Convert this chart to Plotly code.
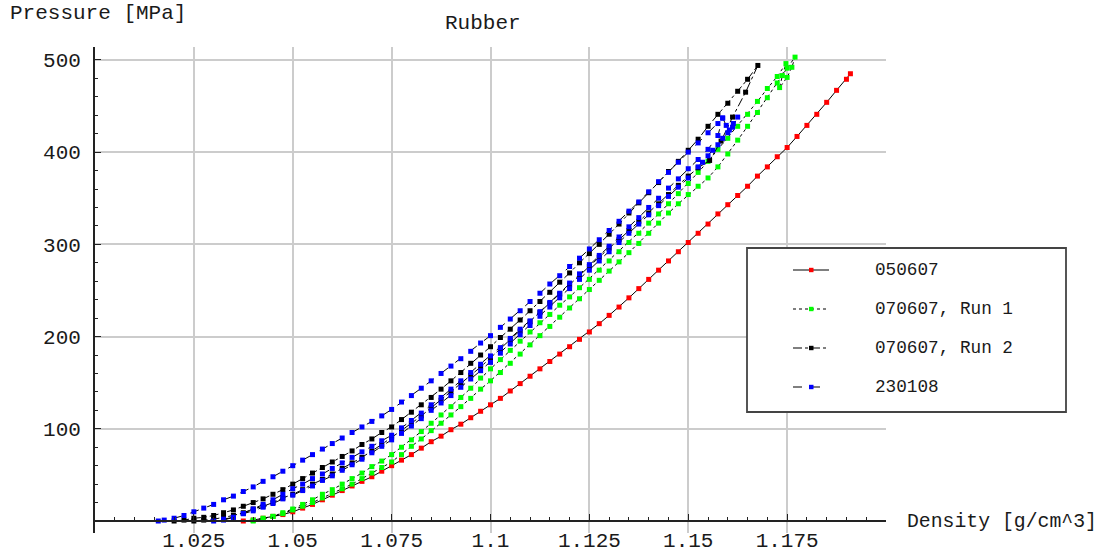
import plotly.graph_objects as go

# ---------------- data (density g/cm^3, pressure MPa) ----------------
# 050607 (red)
RED_X = [1.0375, 1.04, 1.0425, 1.045, 1.0475, 1.05, 1.0525, 1.055, 1.0575, 1.06,
         1.0625, 1.065, 1.0675, 1.07, 1.0725, 1.075, 1.0775, 1.08, 1.0825, 1.085,
         1.0875, 1.09, 1.0925, 1.095, 1.0975, 1.1, 1.1025, 1.105, 1.1075, 1.11,
         1.1125, 1.115, 1.1175, 1.12, 1.1225, 1.125, 1.1275, 1.13, 1.1325, 1.135,
         1.1375, 1.14, 1.1425, 1.145, 1.1475, 1.15, 1.1525, 1.155, 1.1575, 1.16,
         1.1625, 1.165, 1.1675, 1.17, 1.1725, 1.175, 1.1775, 1.18, 1.1825, 1.185,
         1.1875, 1.19, 1.191]
RED_Y = [0, 1, 3, 5, 7, 10, 14, 18, 23, 28,
         33, 38, 43, 48, 54, 60, 66, 72, 79, 86,
         92, 99, 105, 112, 119, 126, 133, 141, 149, 157,
         165, 173, 181, 189, 197, 205, 214, 223, 232, 242,
         252, 262, 272, 282, 292, 302, 312, 322, 333, 343,
         353, 363, 374, 384, 395, 405, 417, 429, 441, 454,
         467, 479, 485]

# 070607, Run 1 (green): loading branch, turn at the top, unloading branch
GU_X = [1.04, 1.0425, 1.045, 1.0475, 1.05, 1.0525, 1.055, 1.0575, 1.06, 1.0625,
        1.065, 1.0675, 1.07, 1.0725, 1.075, 1.0775, 1.08, 1.0825, 1.085, 1.0875,
        1.09, 1.0925, 1.095, 1.0975, 1.1, 1.1025, 1.105, 1.1075, 1.11, 1.1125,
        1.115, 1.1175, 1.12, 1.1225, 1.125, 1.1275, 1.13, 1.1325, 1.135, 1.1375,
        1.14, 1.1425, 1.145, 1.1475, 1.15, 1.1525, 1.155, 1.1575, 1.16, 1.1625,
        1.165, 1.1675, 1.17, 1.1725, 1.1747]
GU_Y = [1, 3, 5, 9, 13, 18, 23, 29, 34, 40,
        46, 52, 59, 65, 72, 80, 88, 97, 106, 115,
        124, 134, 144, 155, 165, 175, 185, 195, 205, 215,
        224, 234, 243, 253, 262, 272, 282, 292, 302, 312,
        323, 333, 344, 355, 366, 378, 390, 403, 415, 428,
        441, 455, 469, 482, 496]
GM_X = [1.1738, 1.1731, 1.175, 1.1762, 1.177]
GM_Y = [483, 470, 481, 492, 503]
GD_X = [1.175, 1.1725, 1.17, 1.1675, 1.165, 1.1625, 1.16, 1.1575, 1.155, 1.1525,
        1.15, 1.1475, 1.145, 1.1425, 1.14, 1.1375, 1.135, 1.1325, 1.13, 1.1275,
        1.125, 1.1225, 1.12, 1.1175, 1.115, 1.1125, 1.11, 1.1075, 1.105, 1.1025,
        1.1, 1.0975, 1.095, 1.0925, 1.09, 1.0875, 1.085, 1.0825, 1.08, 1.0775,
        1.075, 1.0725, 1.07, 1.0675, 1.065, 1.0625, 1.06, 1.0575, 1.055, 1.0525,
        1.05, 1.0475, 1.045, 1.0425, 1.04]
GD_Y = [491, 475, 459, 443, 428, 413, 398, 384, 372, 363,
        354, 344, 334, 323, 312, 301, 291, 281, 271, 261,
        251, 241, 231, 221, 211, 201, 191, 181, 171, 161,
        152, 143, 133, 124, 115, 106, 98, 89, 81, 72,
        64, 58, 52, 46, 40, 35, 30, 25, 20, 16,
        12, 8, 5, 2, 0]

# 070607, Run 2 (black): loading branch and unloading branch
BU_X = [1.02, 1.0225, 1.025, 1.0275, 1.03, 1.0325, 1.035, 1.0375, 1.04, 1.0425,
        1.045, 1.0475, 1.05, 1.0525, 1.055, 1.0575, 1.06, 1.0625, 1.065, 1.0675,
        1.07, 1.0725, 1.075, 1.0775, 1.08, 1.0825, 1.085, 1.0875, 1.09, 1.0925,
        1.095, 1.0975, 1.1, 1.1025, 1.105, 1.1075, 1.11, 1.1125, 1.115, 1.1175,
        1.12, 1.1225, 1.125, 1.1275, 1.13, 1.1325, 1.135, 1.1375, 1.14, 1.1425,
        1.145, 1.1475, 1.15, 1.1525, 1.155, 1.1575, 1.16, 1.1625, 1.165, 1.1676]
BU_Y = [0, 1, 3, 4, 6, 9, 12, 16, 20, 24,
        29, 34, 40, 46, 52, 58, 64, 70, 76, 83,
        89, 96, 102, 110, 118, 126, 134, 143, 152, 161,
        171, 180, 189, 199, 208, 218, 228, 238, 248, 259,
        269, 280, 290, 300, 311, 322, 334, 345, 356, 367,
        379, 390, 402, 414, 428, 441, 453, 466, 479, 494]
BD_X = [1.1645, 1.1612, 1.1583, 1.1554, 1.1525, 1.15,
        1.1475, 1.145, 1.1425, 1.14, 1.1375, 1.135, 1.1325, 1.13, 1.1275, 1.125,
        1.1225, 1.12, 1.1175, 1.115, 1.1125, 1.11, 1.1075, 1.105, 1.1025, 1.1,
        1.0975, 1.095, 1.0925, 1.09, 1.0875, 1.085, 1.0825, 1.08, 1.0775, 1.075,
        1.0725, 1.07, 1.0675, 1.065, 1.0625, 1.06, 1.0575, 1.055, 1.0525, 1.05,
        1.0475, 1.045, 1.0425, 1.04, 1.0375, 1.035, 1.0325, 1.03, 1.0275, 1.025]
BD_Y = [465, 438, 412, 391, 383, 374,
        364, 354, 344, 334, 325, 315, 305, 296, 286, 276,
        266, 256, 246, 236, 226, 216, 206, 196, 186, 176,
        167, 158, 149, 140, 131, 123, 114, 106, 98, 91,
        83, 76, 69, 63, 57, 51, 45, 40, 34, 29,
        25, 20, 16, 13, 9, 6, 4, 2, 1, 0]

# 230108 (blue): loading, double peak, unloading, reloading along the upper curve
B2_X = [1.0325, 1.035, 1.0375, 1.04, 1.0425, 1.045, 1.0475, 1.05, 1.0525, 1.055,
        1.0575, 1.06, 1.0625, 1.065, 1.0675, 1.07, 1.0725, 1.075, 1.0775, 1.08,
        1.0825, 1.085, 1.0875, 1.09, 1.0925, 1.095, 1.0975, 1.1, 1.1025, 1.105,
        1.1075, 1.11, 1.1125, 1.115, 1.1175, 1.12, 1.1225, 1.125, 1.1275, 1.13,
        1.1325, 1.135, 1.1375, 1.14, 1.1425, 1.145, 1.1475, 1.15, 1.1525, 1.155,
        1.1575]
B2_Y = [1, 4, 8, 13, 18, 23, 29, 35, 40, 46,
        51, 57, 63, 69, 75, 81, 87, 93, 101, 109,
        117, 126, 134, 143, 152, 161, 170, 179, 188, 198,
        208, 217, 227, 237, 247, 258, 268, 278, 288, 298,
        308, 319, 329, 340, 350, 361, 371, 382, 392, 403,
        418]
BM_X = [1.1587, 1.1596, 1.1604, 1.1614, 1.1625]
BM_Y = [437, 429, 424, 431, 438]
B3_X = [1.1612, 1.16, 1.1587, 1.1575, 1.1562, 1.155, 1.1536, 1.1525,
        1.15, 1.1475, 1.145, 1.1425, 1.14, 1.1375, 1.135, 1.1325, 1.13, 1.1275,
        1.125, 1.1225, 1.12, 1.1175, 1.115, 1.1125, 1.11, 1.1075, 1.105, 1.1025,
        1.1, 1.0975, 1.095, 1.0925, 1.09, 1.0875, 1.085, 1.0825, 1.08, 1.0775,
        1.075, 1.0725, 1.07, 1.0675, 1.065, 1.0625, 1.06, 1.0575, 1.055, 1.0525,
        1.05, 1.0475, 1.045, 1.0425, 1.04, 1.0375, 1.035, 1.0325, 1.03]
B3_Y = [427, 421, 415, 408, 402, 396, 389, 384,
        372, 362, 352, 342, 332, 322, 312, 302, 292, 282,
        272, 262, 252, 242, 232, 222, 212, 202, 192, 182,
        172, 163, 154, 145, 136, 128, 120, 111, 103, 95,
        88, 81, 74, 67, 61, 55, 49, 44, 38, 33,
        28, 24, 19, 15, 11, 8, 4, 2, 0]
TB_X = [1.016, 1.0175, 1.02, 1.0225, 1.025, 1.0275, 1.03, 1.0325, 1.035, 1.0375,
        1.04, 1.0425, 1.045, 1.0475, 1.05, 1.0525, 1.055, 1.0575, 1.06, 1.0625,
        1.065, 1.0675, 1.07, 1.0725, 1.075, 1.0775, 1.08, 1.0825, 1.085, 1.0875,
        1.09, 1.0925, 1.095, 1.0975, 1.1, 1.1025, 1.105, 1.1075, 1.11, 1.1125,
        1.115, 1.1175, 1.12, 1.1225, 1.125, 1.1275, 1.13, 1.1325, 1.135, 1.1375,
        1.14, 1.1425, 1.145, 1.1475, 1.15, 1.1525, 1.155, 1.1575, 1.1587]
TB_Y = [0, 1, 3, 6, 10, 14, 18, 23, 27, 32,
        37, 43, 48, 54, 60, 66, 72, 78, 84, 90,
        96, 102, 108, 114, 121, 129, 136, 144, 152, 160,
        168, 176, 184, 193, 201, 210, 219, 228, 238, 247,
        257, 266, 276, 285, 295, 305, 315, 325, 336, 346,
        357, 368, 378, 389, 400, 410, 421, 431, 437]

X_TICKS = [1.025, 1.05, 1.075, 1.1, 1.125, 1.15, 1.175]
X_TICK_TEXT = ["1.025", "1.05", "1.075", "1.1", "1.125", "1.15", "1.175"]
Y_TICKS = [100, 200, 300, 400, 500]

for a, b in [(RED_X, RED_Y), (GU_X, GU_Y), (GM_X, GM_Y), (GD_X, GD_Y), (BU_X, BU_Y),
             (BD_X, BD_Y), (B2_X, B2_Y), (BM_X, BM_Y), (B3_X, B3_Y), (TB_X, TB_Y)]:
    assert len(a) == len(b), (len(a), len(b))


def path(*branches):
    xs, ys = [], []
    for bx, by in branches:
        xs += list(bx)
        ys += list(by)
    return xs, ys


SERIES = [
    ("050607", "#ff0000", "solid", path((RED_X, RED_Y))),
    ("070607, Run 1", "#00ff00", "dot", path((GU_X, GU_Y), (GM_X, GM_Y), (GD_X, GD_Y))),
    ("070607, Run 2", "#000000", "dashdot", path((BU_X, BU_Y), (BD_X, BD_Y))),
    ("230108", "#0000ff", "dash", path((B2_X, B2_Y), (BM_X, BM_Y), (B3_X, B3_Y), (TB_X, TB_Y))),
]

# ---------------- layout geometry (pixels) ----------------
W, H = 1103, 559
PL, PR, PT, PB = 95, 886, 47, 533
X_RANGE = [1.0, 1.2]
Y_RANGE = [-13, 514]
FONT = "Liberation Mono, Courier New, monospace"
TXT = "#1a1a1a"


def fx(px):
    return (px - PL) / (PR - PL)


def fy(py):
    return (PB - py) / (PB - PT)


fig = go.Figure()
for name, color, dash, (xs, ys) in SERIES:
    fig.add_trace(go.Scatter(
        x=xs, y=ys, mode="lines+markers", name=name, showlegend=False,
        line=dict(color="#000000", width=1, dash=dash),
        marker=dict(symbol="square", size=5, color=color, line=dict(width=0)),
        cliponaxis=False,
    ))

zero_pos = (0 - Y_RANGE[0]) / (Y_RANGE[1] - Y_RANGE[0])

fig.update_layout(
    width=W, height=H,
    margin=dict(l=PL, r=W - PR, t=PT, b=H - PB, pad=0, autoexpand=False),
    paper_bgcolor="white", plot_bgcolor="white",
    font=dict(family=FONT, size=21, color=TXT),
    showlegend=False,
    xaxis=dict(
        range=X_RANGE, anchor="free", position=zero_pos, automargin=False,
        tickmode="array", tickvals=X_TICKS, ticktext=X_TICK_TEXT,
        ticks="inside", ticklen=6, tickwidth=1.3, tickcolor="#222",
        showline=True, linecolor="#222", linewidth=1.5,
        showgrid=True, gridcolor="#cccccc", gridwidth=1.5,
        zeroline=False, ticklabelstandoff=0,
        minor=dict(tickmode="linear", tick0=1.0, dtick=0.005, ticks="inside",
                   ticklen=3.5, tickwidth=1.2, tickcolor="#222", showgrid=False),
        tickfont=dict(family=FONT, size=21, color=TXT),
    ),
    yaxis=dict(
        range=Y_RANGE, anchor="x", automargin=False,
        tickmode="array", tickvals=Y_TICKS,
        ticks="inside", ticklen=6, tickwidth=1.3, tickcolor="#222",
        showline=True, linecolor="#222", linewidth=1.8,
        showgrid=True, gridcolor="#cccccc", gridwidth=1.5,
        zeroline=False, ticklabelstandoff=8,
        minor=dict(tickmode="linear", tick0=0, dtick=20, ticks="inside",
                   ticklen=3.5, tickwidth=1.2, tickcolor="#222", showgrid=False),
        tickfont=dict(family=FONT, size=21, color=TXT),
    ),
)

ann = [
    dict(text="Pressure [MPa]", x=fx(8), y=fy(14), xanchor="left", size=21),
    dict(text="Rubber", x=fx(483), y=fy(23), xanchor="center", size=21),
    dict(text="Density [g/cm^3]", x=fx(905), y=fy(522), xanchor="left", size=19.8),
]
for a in ann:
    size = a.pop("size")
    fig.add_annotation(xref="paper", yref="paper", yanchor="middle", showarrow=False,
                       font=dict(family=FONT, size=size, color=TXT), **a)

# ---------------- legend (drawn by hand to match the boxed layout) ----------------
fig.add_shape(type="rect", xref="paper", yref="paper",
              x0=fx(747), x1=fx(1066), y0=fy(412), y1=fy(248),
              fillcolor="white", line=dict(color="#444", width=1.8), layer="above")
LEG_ROWS = [270, 309, 348, 387]
for (name, color, dash, _), ry in zip(SERIES, LEG_ROWS):
    fig.add_shape(type="line", xref="paper", yref="paper",
                  x0=fx(793), x1=fx(829), y0=fy(ry), y1=fy(ry),
                  line=dict(color="#000", width=1.2, dash=dash), layer="above")
    fig.add_shape(type="rect", xref="paper", yref="paper",
                  x0=fx(809), x1=fx(813.5), y0=fy(ry + 2.2), y1=fy(ry - 2.2),
                  fillcolor=color, line=dict(width=0), layer="above")
    fig.add_annotation(xref="paper", yref="paper", x=fx(873), y=fy(ry),
                       xanchor="left", yanchor="middle", showarrow=False, text=name,
                       font=dict(family=FONT, size=17.7, color=TXT))

fig.write_html("out.html")
